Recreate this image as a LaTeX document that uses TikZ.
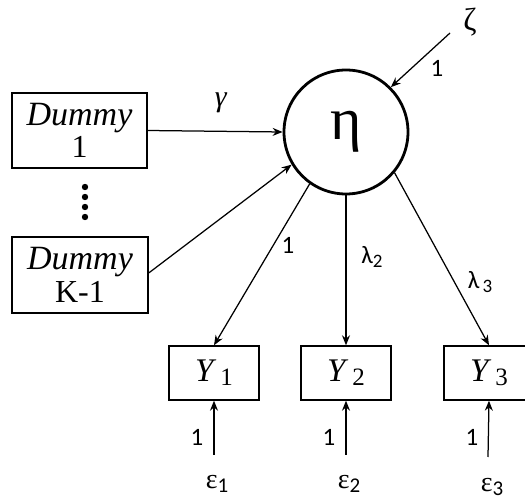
\documentclass[tikz,border=0pt]{standalone}
\usepackage{fontspec}
\setmainfont{Liberation Serif}
\newfontfamily\lblfont{Carlito}
\usetikzlibrary{arrows.meta}
\tikzset{
  obs/.style={draw, line width=1.4pt, minimum width=#1, inner sep=0pt},
  path/.style={line width=1.25pt, -{Stealth[length=10pt,width=8pt]}},
  lbl/.style={font=\lblfont\fontsize{25}{25}\selectfont, inner sep=0pt},
  ytxt/.style={font=\fontsize{33}{34}\selectfont},
  eps/.style={font=\fontsize{28}{28}\selectfont, inner sep=0pt},
}
\newcommand{\ysub}[1]{\textit{Y}\raisebox{-4pt}{\fontsize{25}{25}\selectfont\,#1}}
\newcommand{\esub}[1]{ε\raisebox{-4pt}{\lblfont\fontsize{21}{21}\selectfont #1}}
\newcommand{\dumtxt}[1]{{\fontsize{34}{34}\selectfont\textit{Dummy}}\\[3pt]{\fontsize{32}{32}\selectfont #1}}
\begin{document}
\begin{tikzpicture}[x=1pt,y=-1pt]
\useasboundingbox (0,0) rectangle (525,502);
% boxes
\node[obs=135pt, minimum height=75pt, align=center] (d1) at (79.5,130.5) {\dumtxt{1}};
\node[obs=136pt, minimum height=76pt, align=center] (dk) at (80,275) {\dumtxt{K-1}};
\foreach \i in {0,1,2,3} \fill (85,{187+10*\i}) circle (3.2pt);
\node[draw, circle, line width=2.8pt, minimum size=124pt, inner sep=0pt, font=\fontsize{60}{60}\selectfont] (eta) at (346,132) {η};
\node[obs=90pt, minimum height=54pt, ytxt] (y1) at (214,373) {\ysub{1}};
\node[obs=90pt, minimum height=54pt, ytxt] (y2) at (346,373) {\ysub{2}};
\node[obs=90pt, minimum height=54pt, ytxt] (y3) at (489,373) {\ysub{3}};
% error terms
\node[font=\fontsize{32}{32}\selectfont, inner sep=0pt] (zeta) at (470,22) {ζ};
\coordinate (zs) at (450,33);
\node[eps] (e1) at (217,484) {\esub{1}};
\node[eps] (e2) at (349,484) {\esub{2}};
\node[eps] (e3) at (492,487) {\esub{3}};
\coordinate (e1s) at (214,455);
\coordinate (e2s) at (346,455);
\coordinate (e3s) at (488,457);
% connectors
\draw[path] (d1.east) -- (eta.west);
\draw[path] (dk.east |- 0,273) -- (eta.211);
\draw[path] (zs) -- (eta.45);
\draw[path] (eta.235) -- (y1.north);
\draw[path] (eta.south) -- (y2.north);
\draw[path] (eta.320) -- (y3.north);
\draw[path] (e1s) -- (y1.south);
\draw[path] (e2s) -- (y2.south);
\draw[path] (e3s) -- (y3.south);
% labels
\node[inner sep=0pt, font=\fontsize{30}{30}\selectfont] at (221,103) {\textit{γ}};
\node[lbl] at (437,68) {1};
\node[lbl] at (288,245) {1};
\node[lbl] at (372,257) {λ\raisebox{-4pt}{\fontsize{19}{19}\selectfont 2}};
\node[lbl] at (480,282) {λ\raisebox{-4pt}{\fontsize{19}{19}\selectfont\,3}};
\node[lbl] at (197,437) {1};
\node[lbl] at (329,437) {1};
\node[lbl] at (472,437) {1};
\end{tikzpicture}
\end{document}
